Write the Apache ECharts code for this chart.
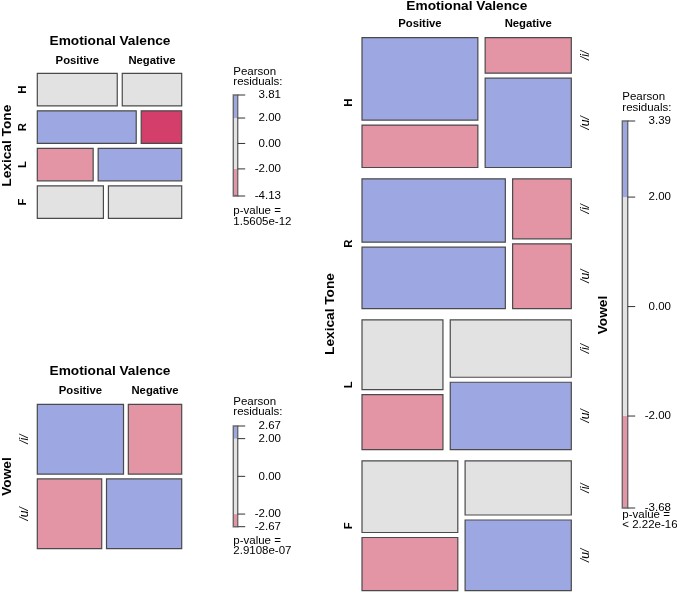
<!DOCTYPE html>
<html><head><meta charset="utf-8">
<script src="https://cdn.jsdelivr.net/npm/echarts@6/dist/echarts.min.js"></script>
<style>html,body{margin:0;padding:0;background:#fff}#c{width:677px;height:592px}</style>
</head><body><div id="c"></div>
<script>
// ---------- data ----------
const tones = ['H', 'R', 'L', 'F'];
const valences = ['Positive', 'Negative'];
const vowels = ['/i/', '/u/'];
// counts per lexical tone (H, R, L, F)
const positiveI = [103, 98, 61, 74];
const positiveU = [53, 95, 48, 55];
const negativeI = [33, 38, 75, 62];
const negativeU = [83, 41, 88, 81];
// legend tick labels (Pearson residuals)
const legendTicks1 = [3.81, 2, 0, -2, -4.13];
const legendTicks2 = [2.67, 2, 0, -2, -2.67];
const legendTicks3 = [3.39, 2, 0, -2, -3.68];
const pValues = ['1.5605e-12', '2.9108e-07', '< 2.22e-16'];

// ---------- helpers ----------
const FONT = '"Liberation Sans", Arial, Helvetica, sans-serif';
const COL = { gray: '#E2E2E2', blue: '#9DA8E2', pink: '#E495A5', darkPink: '#D33F6A', darkBlue: '#4A6FE3' };
const STROKE = '#4a4a4a';
const table = [[positiveI, positiveU], [negativeI, negativeU]]; // [valence][vowel][tone]
function n(t, v, w) { return table[v][w][t]; }
const sum = a => a.reduce((x, y) => x + y, 0);
function shade(r) {
  if (r > 4) return COL.darkBlue;
  if (r > 2) return COL.blue;
  if (r < -4) return COL.darkPink;
  if (r < -2) return COL.pink;
  return COL.gray;
}
// two-way tables
const m1 = tones.map((_, t) => valences.map((_, v) => n(t, v, 0) + n(t, v, 1)));     // tone x valence
const m2 = vowels.map((_, w) => valences.map((_, v) => sum(tones.map((_, t) => n(t, v, w))))); // vowel x valence
function resid2(m, r, c) {
  const rows = m.map(sum), cols = m[0].map((_, j) => sum(m.map(row => row[j]))), N = sum(rows);
  const e = rows[r] * cols[c] / N;
  return (m[r][c] - e) / Math.sqrt(e);
}
const N3 = sum(tones.map((_, t) => sum(m1[t])));
const T3 = tones.map((_, t) => sum(m1[t]));
const V3 = valences.map((_, v) => sum(tones.map((_, t) => m1[t][v])));
const W3 = vowels.map((_, w) => sum(m2[w]));
function resid3(t, v, w) {
  const e = N3 * (T3[t] / N3) * (V3[v] / N3) * (W3[w] / N3);
  return (n(t, v, w) - e) / Math.sqrt(e);
}
function mosaic2(m, r, c, gy, gx) {
  const rows = m.map(sum), N = sum(rows);
  const availH = 1 - (m.length - 1) * gy;
  let y0 = 0; for (let i = 0; i < r; i++) y0 += availH * rows[i] / N + gy;
  const h = availH * rows[r] / N;
  const availW = 1 - (m[r].length - 1) * gx;
  let x0 = 0; for (let j = 0; j < c; j++) x0 += availW * m[r][j] / rows[r] + gx;
  const w = availW * m[r][c] / rows[r];
  return { x0, y0, x1: x0 + w, y1: y0 + h };
}
function mosaic3(t, v, w, gT, gV, gW) {
  const availH = 1 - (tones.length - 1) * gT;
  let ry0 = 0; for (let i = 0; i < t; i++) ry0 += availH * T3[i] / N3 + gT;
  const rowH = availH * T3[t] / N3;
  const availW = 1 - (valences.length - 1) * gV;
  let x0 = 0; for (let j = 0; j < v; j++) x0 += availW * m1[t][j] / T3[t] + gV;
  const wd = availW * m1[t][v] / T3[t];
  const cellAvail = rowH - (vowels.length - 1) * gW;
  let y0 = ry0; for (let k = 0; k < w; k++) y0 += cellAvail * n(t, v, k) / m1[t][v] + gW;
  const h = cellAvail * n(t, v, w) / m1[t][v];
  return { x0, y0, x1: x0 + wd, y1: y0 + h, ry0, ry1: ry0 + rowH };
}
function txt(x, y, text, font, opts) {
  opts = opts || {};
  const align = opts.align || 'center';
  return {
    type: 'text', x: x, y: y, rotation: opts.rot || 0,
    style: { text: text, font: font, fill: '#000', textAlign: align, align: align,
      textVerticalAlign: 'middle', verticalAlign: 'middle' }
  };
}
const LBL = 'bold 11.3px ' + FONT;
const VLBL = 'italic 12px ' + FONT;
const TTL = 'bold 13.7px ' + FONT;
const LEG = '11.5px ' + FONT;
function rectEl(p0, p1, fill) {
  return { type: 'rect',
    shape: { x: Math.min(p0[0], p1[0]), y: Math.min(p0[1], p1[1]),
      width: Math.abs(p1[0] - p0[0]), height: Math.abs(p1[1] - p0[1]) },
    style: { fill: fill, stroke: STROKE, lineWidth: 1.2 } };
}

// ---------- series ----------
const series = [];
// plot 1: tone x valence
series.push({
  type: 'custom', xAxisIndex: 0, yAxisIndex: 0, clip: false,
  data: tones.flatMap((_, t) => valences.map((_, v) => [t, v])),
  renderItem: (params, api) => {
    const t = api.value(0), v = api.value(1);
    const sz = api.size([1, 1]);
    const R = mosaic2(m1, t, v, 5 / sz[1], 5 / sz[0]);
    const p0 = api.coord([R.x0, R.y0]), p1 = api.coord([R.x1, R.y1]);
    const ch = [rectEl(p0, p1, shade(resid2(m1, t, v)))];
    if (t === 0) ch.push(txt((p0[0] + p1[0]) / 2, Math.min(p0[1], p1[1]) - 12.6, valences[v], LBL));
    if (v === 0) ch.push(txt(p0[0] - 14.6, (p0[1] + p1[1]) / 2, tones[t], LBL, { rot: Math.PI / 2 }));
    return { type: 'group', children: ch };
  }
});
// plot 2: vowel x valence
series.push({
  type: 'custom', xAxisIndex: 1, yAxisIndex: 1, clip: false,
  data: vowels.flatMap((_, w) => valences.map((_, v) => [w, v])),
  renderItem: (params, api) => {
    const w = api.value(0), v = api.value(1);
    const sz = api.size([1, 1]);
    const R = mosaic2(m2, w, v, 4.8 / sz[1], 4.8 / sz[0]);
    const p0 = api.coord([R.x0, R.y0]), p1 = api.coord([R.x1, R.y1]);
    const ch = [rectEl(p0, p1, shade(resid2(m2, w, v)))];
    if (w === 0) ch.push(txt((p0[0] + p1[0]) / 2, Math.min(p0[1], p1[1]) - 13.3, valences[v], LBL));
    if (v === 0) ch.push(txt(p0[0] - 12.3, (p0[1] + p1[1]) / 2, vowels[w], VLBL, { rot: Math.PI / 2 }));
    return { type: 'group', children: ch };
  }
});
// plot 3: tone x valence x vowel
series.push({
  type: 'custom', xAxisIndex: 2, yAxisIndex: 2, clip: false,
  data: tones.flatMap((_, t) => valences.flatMap((_, v) => vowels.map((_, w) => [t, v, w]))),
  renderItem: (params, api) => {
    const t = api.value(0), v = api.value(1), w = api.value(2);
    const sz = api.size([1, 1]);
    const R = mosaic3(t, v, w, 11.3 / sz[1], 7.3 / sz[0], 5 / sz[1]);
    const p0 = api.coord([R.x0, R.y0]), p1 = api.coord([R.x1, R.y1]);
    const ch = [rectEl(p0, p1, shade(resid3(t, v, w)))];
    if (t === 0 && w === 0) ch.push(txt((p0[0] + p1[0]) / 2, Math.min(p0[1], p1[1]) - 13.4, valences[v], LBL));
    if (v === 0 && w === 0) {
      const r0 = api.coord([0, R.ry0]), r1 = api.coord([0, R.ry1]);
      ch.push(txt(p0[0] - 12.7, (r0[1] + r1[1]) / 2, tones[t], LBL, { rot: Math.PI / 2 }));
    }
    if (v === valences.length - 1) ch.push(txt(Math.max(p0[0], p1[0]) + 14.7, (p0[1] + p1[1]) / 2, vowels[w], VLBL, { rot: Math.PI / 2 }));
    return { type: 'group', children: ch };
  }
});
// legends
function legendSeries(idx, ticks) {
  const maxV = ticks[0], minV = ticks[ticks.length - 1];
  const cuts = [-Infinity, -4, -2, 2, 4, Infinity];
  const cols = [COL.darkPink, COL.pink, COL.gray, COL.blue, COL.darkBlue];
  const segs = [];
  for (let i = 0; i < cols.length; i++) {
    const lo = Math.max(cuts[i], minV), hi = Math.min(cuts[i + 1], maxV);
    if (hi > lo) segs.push([lo, hi, i]);
  }
  series.push({
    type: 'custom', xAxisIndex: idx, yAxisIndex: idx, clip: false,
    data: segs,
    renderItem: (params, api) => {
      const p0 = api.coord([0, api.value(1)]), p1 = api.coord([1, api.value(0)]);
      return { type: 'rect', shape: { x: p0[0], y: p0[1], width: p1[0] - p0[0], height: p1[1] - p0[1] },
        style: { fill: cols[api.value(2)] } };
    }
  });
  series.push({
    type: 'custom', xAxisIndex: idx, yAxisIndex: idx, clip: false,
    data: [[minV, maxV]],
    renderItem: (params, api) => {
      const p0 = api.coord([0, api.value(1)]), p1 = api.coord([1, api.value(0)]);
      return { type: 'rect', shape: { x: p0[0], y: p0[1], width: p1[0] - p0[0], height: p1[1] - p0[1] },
        style: { fill: null, stroke: '#6a6a6a', lineWidth: 1.4 } };
    }
  });
  series.push({
    type: 'custom', xAxisIndex: idx, yAxisIndex: idx, clip: false,
    data: ticks.map(v => [v]),
    renderItem: (params, api) => {
      const val = api.value(0);
      const p = api.coord([1, val]);
      return { type: 'group', children: [
        { type: 'line', shape: { x1: p[0], y1: p[1], x2: p[0] + 7.5, y2: p[1] }, style: { stroke: '#333', lineWidth: 1 } },
        txt(p[0] + 43.3, p[1], val.toFixed(2), LEG, { align: 'right' })
      ] };
    }
  });
}
legendSeries(3, legendTicks1);
legendSeries(4, legendTicks2);
legendSeries(5, legendTicks3);

const grids = [
  { left: 37.3, top: 73.3, width: 144.4, height: 145 },
  { left: 37.3, top: 404.3, width: 144.4, height: 144.4 },
  { left: 362, top: 37.7, width: 209.3, height: 553 },
  { left: 233.3, top: 95, width: 4.4, height: 101 },
  { left: 233.3, top: 426, width: 4.4, height: 100.7 },
  { left: 622.3, top: 121, width: 5.4, height: 387 }
];
const tickSets = [null, null, null, legendTicks1, legendTicks2, legendTicks3];
const xAxis = grids.map((g, i) => ({ type: 'value', gridIndex: i, min: 0, max: 1, show: false }));
const yAxis = grids.map((g, i) => tickSets[i]
  ? { type: 'value', gridIndex: i, min: tickSets[i][tickSets[i].length - 1], max: tickSets[i][0], show: false }
  : { type: 'value', gridIndex: i, min: 0, max: 1, inverse: true, show: false });

function gtext(x, y, text, font, rot, align) {
  return { type: 'text', x: x, y: y, rotation: rot || 0,
    style: { text: text, font: font, fill: '#000', textAlign: align || 'center', align: align || 'center',
      textVerticalAlign: 'middle', verticalAlign: 'middle' } };
}
const graphic = [
  gtext(110, 41, 'Emotional Valence', TTL),
  gtext(7.5, 145.7, 'Lexical Tone', TTL, Math.PI / 2),
  gtext(233.3, 71.7, 'Pearson', LEG, 0, 'left'),
  gtext(233.3, 82.3, 'residuals:', LEG, 0, 'left'),
  gtext(233.3, 211.3, 'p-value =', LEG, 0, 'left'),
  gtext(233.3, 222.3, pValues[0], LEG, 0, 'left'),

  gtext(110, 371.7, 'Emotional Valence', TTL),
  gtext(7.5, 476.5, 'Vowel', TTL, Math.PI / 2),
  gtext(233.3, 401.7, 'Pearson', LEG, 0, 'left'),
  gtext(233.3, 412.3, 'residuals:', LEG, 0, 'left'),
  gtext(233.3, 540.7, 'p-value =', LEG, 0, 'left'),
  gtext(233.3, 550.7, pValues[1], LEG, 0, 'left'),

  gtext(466.8, 6, 'Emotional Valence', TTL),
  gtext(330, 314, 'Lexical Tone', TTL, Math.PI / 2),
  gtext(603.5, 315, 'Vowel', TTL, Math.PI / 2),
  gtext(622.3, 96.7, 'Pearson', LEG, 0, 'left'),
  gtext(622.3, 108.3, 'residuals:', LEG, 0, 'left'),
  gtext(622.3, 515, 'p-value =', LEG, 0, 'left'),
  gtext(622.3, 524.5, pValues[2], LEG, 0, 'left')
];

const chart = echarts.init(document.getElementById('c'), null, { renderer: 'canvas' });
chart.setOption({
  animation: false,
  backgroundColor: '#fff',
  grid: grids,
  xAxis: xAxis,
  yAxis: yAxis,
  graphic: graphic,
  series: series
});
</script></body></html>
